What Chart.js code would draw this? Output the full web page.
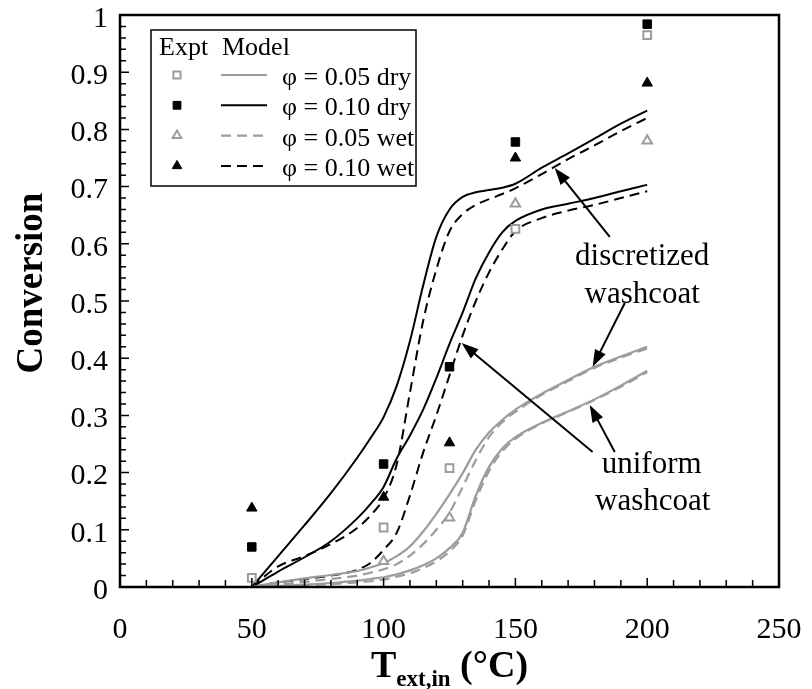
<!DOCTYPE html>
<html>
<head>
<meta charset="utf-8">
<script src="https://cdn.jsdelivr.net/npm/chart.js@4.4.0/dist/chart.umd.min.js"></script>
<style>
  html, body { margin: 0; padding: 0; background: #fff; }
  #wrap { width: 812px; height: 689px; }
</style>
</head>
<body>
<div id="wrap"><canvas id="chart"></canvas></div>
<script>
// model curves, sampled along the inlet temperature
const tModel = [50, 60, 70, 80, 90, 95, 100, 105, 110, 115, 120, 125, 130, 135, 140, 145, 150, 160, 170, 180, 190, 200];
const dry010Disc = [0, 0.054, 0.108, 0.164, 0.226, 0.26, 0.297, 0.352, 0.43, 0.527, 0.612, 0.66, 0.682, 0.69, 0.694, 0.698, 0.705, 0.733, 0.758, 0.784, 0.81, 0.833];
const wet010Disc = [0, 0.036, 0.054, 0.075, 0.103, 0.125, 0.155, 0.215, 0.34, 0.465, 0.555, 0.622, 0.652, 0.668, 0.678, 0.687, 0.697, 0.722, 0.748, 0.772, 0.797, 0.82];
const dry010Unif = [0, 0.027, 0.052, 0.08, 0.12, 0.145, 0.175, 0.225, 0.265, 0.31, 0.365, 0.425, 0.48, 0.54, 0.585, 0.62, 0.64, 0.66, 0.67, 0.68, 0.692, 0.703];
const wet010Unif = [0, 0.008, 0.014, 0.02, 0.03, 0.042, 0.065, 0.095, 0.16, 0.235, 0.3, 0.37, 0.44, 0.5, 0.55, 0.59, 0.622, 0.645, 0.658, 0.668, 0.68, 0.692];
const dry005Disc = [0, 0.008, 0.015, 0.021, 0.028, 0.034, 0.042, 0.054, 0.071, 0.097, 0.128, 0.162, 0.199, 0.24, 0.27, 0.292, 0.31, 0.338, 0.362, 0.385, 0.403, 0.42];
const wet005Disc = [0, 0.004, 0.009, 0.014, 0.02, 0.025, 0.031, 0.04, 0.055, 0.075, 0.1, 0.13, 0.175, 0.222, 0.262, 0.288, 0.306, 0.336, 0.36, 0.383, 0.401, 0.417];
const dry005Unif = [0, 0.002, 0.004, 0.007, 0.011, 0.014, 0.017, 0.022, 0.029, 0.038, 0.05, 0.068, 0.095, 0.16, 0.21, 0.242, 0.262, 0.287, 0.307, 0.328, 0.352, 0.378];
const wet005Unif = [0, 0.001, 0.003, 0.005, 0.008, 0.01, 0.013, 0.018, 0.024, 0.033, 0.045, 0.062, 0.09, 0.152, 0.203, 0.237, 0.259, 0.286, 0.306, 0.327, 0.35, 0.376];

// experiments
const tExpt = [50, 100, 125, 150, 200];
const expt005Dry = [0.016, 0.104, 0.208, 0.626, 0.965];
const expt010Dry = [0.07, 0.215, 0.385, 0.778, 0.984];
const expt005Wet = [null, 0.045, 0.121, 0.67, 0.78];
const expt010Wet = [0.138, 0.157, 0.252, 0.75, 0.881];

const xTicks = [0, 50, 100, 150, 200, 250];
const yTicks = [0, 0.1, 0.2, 0.3, 0.4, 0.5, 0.6, 0.7, 0.8, 0.9, 1];
const legendLabels = ['\u03C6 = 0.05 dry', '\u03C6 = 0.10 dry', '\u03C6 = 0.05 wet', '\u03C6 = 0.10 wet'];

const GRAY = '#9c9c9c';
const SERIF = '"Liberation Serif", "DejaVu Serif", serif';
const DASH = [10, 6];

function pts(xs, ys) {
    return xs.map((x, i) => ({ x: x, y: ys[i] })).filter(p => p.y !== null);
}

function curve(data, color, dashed, width) {
    return {
        type: 'line', data: pts(tModel, data),
        borderColor: color, borderWidth: width, borderDash: dashed ? DASH : [],
        pointRadius: 0, fill: false, cubicInterpolationMode: 'monotone'
    };
}

function markers(data, style, color, open, r) {
    return {
        type: 'scatter', data: pts(tExpt, data), showLine: false,
        pointStyle: style, pointRadius: r, pointHoverRadius: r,
        pointBackgroundColor: open ? '#fff' : color,
        pointBorderColor: color, pointBorderWidth: open ? 2 : 1
    };
}

function arrow(ctx, x1, y1, x2, y2) {
    const ang = Math.atan2(y2 - y1, x2 - x1);
    const len = 17, half = 6;
    ctx.beginPath();
    ctx.moveTo(x1, y1);
    ctx.lineTo(x2 - Math.cos(ang) * len * 0.8, y2 - Math.sin(ang) * len * 0.8);
    ctx.stroke();
    ctx.beginPath();
    ctx.moveTo(x2, y2);
    ctx.lineTo(x2 - Math.cos(ang) * len - Math.sin(ang) * half, y2 - Math.sin(ang) * len + Math.cos(ang) * half);
    ctx.lineTo(x2 - Math.cos(ang) * len + Math.sin(ang) * half, y2 - Math.sin(ang) * len - Math.cos(ang) * half);
    ctx.closePath();
    ctx.fill();
}

// frame, inward ticks, annotations, legend and axis titles
const decor = {
    id: 'decor',
    afterDatasetsDraw(chart) {
        const { ctx, chartArea: a, scales: { x, y } } = chart;
        ctx.save();
        ctx.fillStyle = '#000';
        ctx.strokeStyle = '#000';
        ctx.lineWidth = 2;

        // annotations
        ctx.font = '31px ' + SERIF;
        ctx.textAlign = 'center';
        ctx.textBaseline = 'alphabetic';
        ctx.fillText('discretized', x.getPixelForValue(198.1), y.getPixelForValue(0.563));
        ctx.fillText('washcoat', x.getPixelForValue(198.1), y.getPixelForValue(0.4965));
        ctx.fillText('uniform', x.getPixelForValue(201.7), y.getPixelForValue(0.199));
        ctx.fillText('washcoat', x.getPixelForValue(202.1), y.getPixelForValue(0.135));
        const arrows = [
            [185.8, 0.612, 164.9, 0.7325],
            [191.5, 0.4965, 179.3, 0.385],
            [179.3, 0.236, 129.6, 0.4266],
            [187.7, 0.236, 178.2, 0.318]
        ];
        arrows.forEach(r => arrow(ctx, x.getPixelForValue(r[0]), y.getPixelForValue(r[1]),
            x.getPixelForValue(r[2]), y.getPixelForValue(r[3])));

        // frame
        ctx.lineWidth = 2.5;
        ctx.strokeRect(a.left, a.top, a.right - a.left, a.bottom - a.top);

        // inward ticks
        ctx.lineWidth = 1.5;
        ctx.beginPath();
        for (let i = 0; i <= 25; i++) {
            const px = x.getPixelForValue(i * 10);
            ctx.moveTo(px, a.bottom);
            ctx.lineTo(px, a.bottom - (i % 5 === 0 ? 9 : 7));
        }
        for (let i = 0; i <= 50; i++) {
            const py = y.getPixelForValue(i * 0.02);
            ctx.moveTo(a.left, py);
            ctx.lineTo(a.left + (i % 5 === 0 ? 9 : 6), py);
        }
        ctx.stroke();

        // legend box
        const lx = a.left + 31, ly = a.top + 15;
        ctx.fillStyle = '#fff';
        ctx.fillRect(lx, ly, 265, 156);
        ctx.lineWidth = 1.5;
        ctx.strokeRect(lx, ly, 265, 156);
        ctx.fillStyle = '#000';
        ctx.font = '26px ' + SERIF;
        ctx.textAlign = 'left';
        ctx.fillText('Expt', lx + 8, ly + 25);
        ctx.fillText('Model', lx + 71, ly + 25);
        const sets = chart.data.datasets;
        legendLabels.forEach((lab, i) => {
            const cy = ly + 45 + i * 30.3;
            const m = sets[i];
            ctx.fillStyle = m.pointBackgroundColor;
            ctx.strokeStyle = m.pointBorderColor;
            ctx.lineWidth = m.pointBorderWidth;
            Chart.helpers.drawPoint(ctx, { pointStyle: m.pointStyle, radius: m.pointRadius - 0.5, rotation: 0, borderWidth: m.pointBorderWidth }, lx + 26, cy);
            const c = sets[4 + i];
            ctx.strokeStyle = c.borderColor;
            ctx.lineWidth = c.borderWidth;
            ctx.setLineDash(c.borderDash);
            ctx.beginPath();
            ctx.moveTo(lx + 70, cy);
            ctx.lineTo(lx + 116, cy);
            ctx.stroke();
            ctx.setLineDash([]);
            ctx.fillStyle = '#000';
            ctx.fillText(lab, lx + 131, cy + 10);
        });
        ctx.restore();
    },
    afterDraw(chart) {
        const { ctx, chartArea: a } = chart;
        ctx.save();
        ctx.fillStyle = '#000';
        // x title with subscript
        const big = 'bold 38px ' + SERIF, small = 'bold 23px ' + SERIF;
        ctx.font = big;
        const wT = ctx.measureText('T').width, wP = ctx.measureText(' (\u00B0C)').width;
        ctx.font = small;
        const wS = ctx.measureText('ext,in').width;
        let sx = (a.left + a.right) / 2 - (wT + wS + wP) / 2;
        const base = 677;
        ctx.textBaseline = 'alphabetic';
        ctx.textAlign = 'left';
        ctx.font = big;
        ctx.fillText('T', sx, base);
        ctx.font = small;
        ctx.fillText('ext,in', sx + wT, base + 9);
        ctx.font = big;
        ctx.fillText(' (\u00B0C)', sx + wT + wS, base);
        // y title
        ctx.translate(42, (a.top + a.bottom) / 2 - 18);
        ctx.rotate(-Math.PI / 2);
        ctx.font = 'bold 37px ' + SERIF;
        ctx.textAlign = 'center';
        ctx.fillText('Conversion', 0, 0);
        ctx.restore();
    }
};

const datasets = [
    markers(expt005Dry, 'rect', GRAY, true, 5.5),
    markers(expt010Dry, 'rect', '#000', false, 6),
    markers(expt005Wet, 'triangle', GRAY, true, 5.5),
    markers(expt010Wet, 'triangle', '#000', false, 6),
    curve(dry005Disc, GRAY, false, 2.2),
    curve(dry010Disc, '#000', false, 2),
    curve(wet005Disc, GRAY, true, 2.2),
    curve(wet010Disc, '#000', true, 2),
    curve(dry005Unif, GRAY, false, 2.2),
    curve(dry010Unif, '#000', false, 2),
    curve(wet005Unif, GRAY, true, 2.2),
    curve(wet010Unif, '#000', true, 2)
];

new Chart(document.getElementById('chart'), {
    type: 'scatter',
    data: { datasets: datasets },
    options: {
        responsive: true,
        maintainAspectRatio: false,
        animation: false,
        events: [],
        layout: { padding: { left: 0, top: 15, right: 33, bottom: 0 } },
        plugins: { legend: { display: false }, tooltip: { enabled: false } },
        scales: {
            x: {
                type: 'linear', min: 0, max: 250,
                afterFit: s => { s.height = 102; s.paddingLeft = 0; s.paddingRight = 0; },
                afterBuildTicks: s => { s.ticks = xTicks.map(v => ({ value: v })); },
                grid: { display: false, drawTicks: false },
                border: { display: false },
                ticks: { color: '#000', padding: 25, maxRotation: 0, font: { family: SERIF, size: 30 } }
            },
            y: {
                type: 'linear', min: 0, max: 1,
                afterFit: s => { s.width = 120; s.paddingTop = 0; s.paddingBottom = 0; },
                afterBuildTicks: s => { s.ticks = yTicks.map(v => ({ value: v })); },
                grid: { display: false, drawTicks: false },
                border: { display: false },
                ticks: {
                    color: '#000', padding: 12, labelOffset: 4, font: { family: SERIF, size: 30 },
                    callback: v => String(Math.round(v * 10) / 10)
                }
            }
        }
    },
    plugins: [decor]
});
</script>
</body>
</html>
